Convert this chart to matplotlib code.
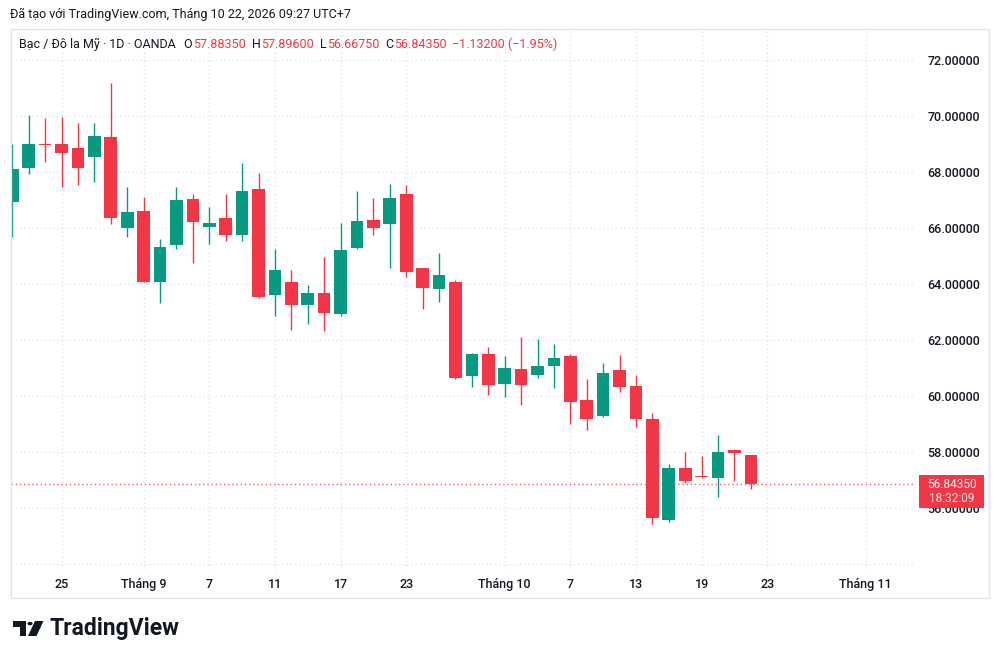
import numpy as np
import matplotlib.pyplot as plt
from matplotlib.patches import Rectangle, Circle, Polygon

plt.rcParams['font.family'] = ['Roboto', 'DejaVu Sans']

# daily candles, 2026-08-20 .. 2026-10-22 (weekdays)
first_day = '2026-08-20'
opens = [66.92, 68.15, 69.02, 68.99, 68.87, 68.54, 69.24, 66.01, 66.61, 64.06,
         65.40, 67.05, 66.05, 66.35, 65.75, 67.39, 63.60, 64.06, 63.27, 63.69,
         62.94, 65.29, 66.29, 66.13, 67.20, 64.56, 63.81, 64.07, 60.71, 61.52,
         60.43, 60.96, 60.76, 61.08, 61.45, 59.85, 59.29, 60.94, 60.37, 59.18,
         55.57, 57.45, 57.14, 57.08, 58.07, 57.8835]
highs = [69.02, 70.04, 69.92, 69.95, 69.74, 69.74, 71.19, 67.48, 67.10, 65.60,
         67.48, 67.21, 66.76, 67.21, 68.34, 67.95, 65.27, 64.50, 63.96, 64.95,
         66.17, 67.33, 67.06, 67.56, 67.54, 64.58, 65.11, 64.14, 61.54, 61.75,
         61.45, 62.10, 62.04, 61.87, 61.49, 60.61, 61.20, 61.48, 60.75, 59.40,
         57.57, 58.00, 57.86, 58.61, 58.12, 57.896]
lows = [65.69, 67.93, 68.37, 67.45, 67.54, 67.65, 66.14, 65.69, 64.06, 63.31,
        65.24, 64.76, 65.43, 65.55, 65.54, 63.51, 62.86, 62.35, 62.57, 62.32,
        62.87, 65.26, 65.75, 64.58, 64.26, 63.11, 63.37, 60.62, 60.32, 60.04,
        59.98, 59.70, 60.65, 60.30, 59.00, 58.79, 59.27, 60.15, 58.91, 55.43,
        55.49, 56.90, 57.08, 56.40, 56.98, 56.6675]
closes = [68.10, 68.99, 68.98, 68.68, 68.13, 69.29, 66.37, 66.57, 64.08, 65.33,
          67.00, 66.21, 66.19, 65.75, 67.32, 63.55, 64.50, 63.24, 63.69, 62.96,
          65.23, 66.25, 66.02, 67.06, 64.43, 63.87, 64.31, 60.65, 61.49, 60.40,
          61.02, 60.38, 61.07, 61.37, 59.78, 59.20, 60.82, 60.33, 59.17, 55.63,
          57.42, 56.98, 57.10, 58.02, 57.96, 56.8435]

tick_dates = ['2026-08-25', '2026-09-01', '2026-09-07', '2026-09-11', '2026-09-17',
              '2026-09-23', '2026-10-01', '2026-10-07', '2026-10-13', '2026-10-19',
              '2026-10-23', '2026-11-02']
tick_labels = ['25', 'Tháng 9', '7', '11', '17', '23', 'Tháng 10', '7', '13', '19',
               '23', 'Tháng 11']
price_ticks = [54, 56, 58, 60, 62, 64, 66, 68, 70, 72]

last_price = 56.8435
countdown = '18:32:09'
created = 'Đã tạo với TradingView.com, Tháng 10 22, 2026 09:27 UTC+7'
symbol = 'Bạc / Đô la Mỹ · 1D · OANDA'
ohlc = [('O', '57.88350'), ('H', '57.89600'), ('L', '56.66750'), ('C', '56.84350')]
change = '−1.13200 (−1.95%)'

UP = '#089981'
DOWN = '#F23645'
TEXT = '#131722'
GRID = '#e0e3eb'

W, H = 1000, 661
fig = plt.figure(figsize=(W / 100, H / 100), dpi=100)
fig.patch.set_facecolor('white')


def fx(x):
    return x / W


def fy(y):
    return 1 - y / H


ax = fig.add_axes([fx(11), fy(570), fx(915) - fx(11), fy(29) - fy(570)])

o, h, l, c = map(np.array, (opens, highs, lows, closes))
x = np.arange(len(o))
cols = np.where(c >= o, UP, DOWN)
ax.vlines(x, l, h, colors=cols, lw=1, zorder=3)
ax.bar(x, np.maximum(np.abs(c - o), 0.04), bottom=np.minimum(o, c), width=0.77,
       color=cols, lw=0, zorder=4)

ax.axhline(last_price, color=DOWN, lw=1, ls=(0, (1, 2)), alpha=0.8, zorder=2)

ax.set_xlim(-0.08, 55.0)
ax.set_ylim(53.79, 73.11)

xt = np.busday_count(first_day, np.array(tick_dates, dtype='datetime64[D]'))
ax.set_xticks(xt)
ax.set_xticklabels(tick_labels, fontsize=9, color=TEXT)
ax.set_yticks(price_ticks)
ax.set_yticklabels(['' if v == 54 else f'{v:.5f}' for v in price_ticks], fontsize=9, color=TEXT)
ax.yaxis.tick_right()
ax.tick_params(axis='x', length=0, pad=6)
ax.tick_params(axis='y', length=0, pad=9)
for lab in ax.get_xticklabels() + ax.get_yticklabels():
    lab.set_fontweight('medium')
ax.grid(True, color=GRID, lw=1, ls=(0, (1, 2)), zorder=0)
for s in ax.spines.values():
    s.set_visible(False)

# outer frame
fig.add_artist(Rectangle((fx(11), fy(598)), fx(989) - fx(11), fy(29) - fy(598),
                         transform=fig.transFigure, fill=False, ec=GRID, lw=1))

# last price tag (covers the 56 label like in TradingView)
fig.add_artist(Rectangle((fx(919), fy(508)), fx(65), fy(475) - fy(508),
                         transform=fig.transFigure, color=DOWN, lw=0, zorder=5))
fig.text(fx(951.5), fy(484), f'{last_price:.5f}', color='white', fontsize=8.5,
         ha='center', va='center', zorder=6)
fig.text(fx(951.5), fy(499), countdown, color='#fde3e6', fontsize=8.5,
         ha='center', va='center', zorder=6)

# header texts
fig.text(fx(10), fy(18), created, color=TEXT, fontsize=9, va='baseline')
fig.canvas.draw()
r = fig.canvas.get_renderer()
cx = 19
t = fig.text(fx(cx), fy(48), symbol, color=TEXT, fontsize=9, va='baseline')
cx += t.get_window_extent(r).width + 8
for k, v in ohlc:
    t = fig.text(fx(cx), fy(48), k, color=TEXT, fontsize=9, va='baseline')
    cx += t.get_window_extent(r).width + 1
    t = fig.text(fx(cx), fy(48), v, color=DOWN, fontsize=9, va='baseline')
    cx += t.get_window_extent(r).width + 5.5
fig.text(fx(cx), fy(48), change, color=DOWN, fontsize=9, va='baseline')

# logo
fig.add_artist(Polygon([(fx(13), fy(621)), (fx(26), fy(621)), (fx(26), fy(636)),
                        (fx(20), fy(636)), (fx(20), fy(626.5)), (fx(13), fy(626.5))],
                       closed=True, transform=fig.transFigure, color=TEXT, lw=0))
fig.add_artist(Circle((fx(30), fy(623.6)), fx(2.6), transform=fig.transFigure,
                      color=TEXT, lw=0))
fig.add_artist(Polygon([(fx(35), fy(621)), (fx(43.5), fy(621)), (fx(36.5), fy(636)),
                        (fx(28), fy(636))], closed=True, transform=fig.transFigure,
                       color=TEXT, lw=0))
fig.text(fx(49), fy(629), 'TradingView', color=TEXT, fontsize=16.5, fontweight='bold',
         va='center')

fig.savefig('out.png', dpi=100)
